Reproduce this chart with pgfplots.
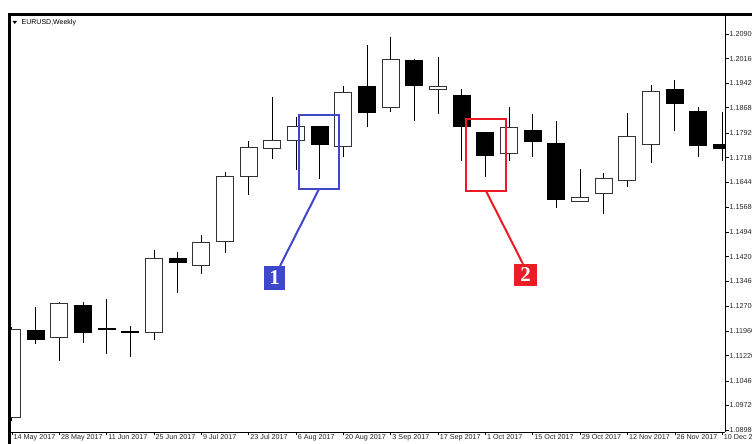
\documentclass[border=0pt]{standalone}
\usepackage{pgfplots}
\pgfplotsset{compat=1.18}
\usepackage{pgfplotstable}
\usepackage{fontspec}
\setmainfont{Liberation Sans}
\newfontfamily\numfont{Liberation Serif}
\definecolor{boxblue}{RGB}{63,72,204}
\definecolor{boxred}{RGB}{237,28,36}

% week index, open, high, low, close
\pgfplotstableread{
x o h l c
0 1.0934 1.1208 1.0925 1.1202
2 1.1175 1.1283 1.1106 1.1280
6 1.1190 1.1440 1.1169 1.1416
8 1.1392 1.1485 1.1368 1.1464
9 1.1464 1.1675 1.1431 1.1663
10 1.1660 1.1768 1.1605 1.1750
11 1.1744 1.1900 1.1714 1.1771
12 1.1768 1.1840 1.1681 1.1813
14 1.1750 1.1934 1.1720 1.1915
16 1.1867 1.2081 1.1855 1.2015
18 1.1921 1.2021 1.1849 1.1934
21 1.1729 1.1870 1.1708 1.1810
24 1.1584 1.1684 1.1584 1.1599
25 1.1608 1.1672 1.1548 1.1657
26 1.1648 1.1852 1.1630 1.1783
27 1.1756 1.1937 1.1702 1.1918
}\bull
\pgfplotstableread{
x o h l c
1 1.1199 1.1268 1.1157 1.1169
3 1.1274 1.1283 1.1160 1.1190
4 1.1205 1.1292 1.1127 1.1199
5 1.1196 1.1211 1.1118 1.1193
7 1.1416 1.1434 1.1310 1.1401
13 1.1813 1.1813 1.1654 1.1756
15 1.1934 1.2057 1.1810 1.1852
17 1.2012 1.2015 1.1828 1.1934
19 1.1906 1.1925 1.1708 1.1810
20 1.1795 1.1795 1.1660 1.1723
22 1.1801 1.1849 1.1720 1.1765
23 1.1762 1.1828 1.1566 1.1590
28 1.1925 1.1952 1.1798 1.1879
29 1.1858 1.1870 1.1720 1.1753
30 1.1759 1.1855 1.1708 1.1744
}\bear

\begin{document}
\begin{tikzpicture}[x=1pt,y=1pt]
\begin{axis}[
  scale only axis, width=715pt, height=417pt,
  xmin=-0.0845, xmax=30.12, ymin=1.0892, ymax=1.21472,
  axis x line*=bottom, axis y line*=right,
  axis line style={black, line width=0.8pt},
  tick align=outside, major tick length=3.5pt,
  tick style={black, line width=0.6pt},
  xtick={0,2,...,30},
  xticklabels={14 May 2017,28 May 2017,11 Jun 2017,25 Jun 2017,9 Jul 2017,23 Jul 2017,6 Aug 2017,20 Aug 2017,3 Sep 2017,17 Sep 2017,1 Oct 2017,15 Oct 2017,29 Oct 2017,12 Nov 2017,26 Nov 2017,10 Dec 2017},
  ytick={1.0898,1.0972,1.1046,1.1122,1.1196,1.1270,1.1346,1.1420,1.1494,1.1568,1.1644,1.1718,1.1792,1.1868,1.1942,1.2016,1.2090},
  yticklabels={1.08980,1.09720,1.10460,1.11220,1.11960,1.12700,1.13460,1.14200,1.14940,1.15680,1.16440,1.17180,1.17920,1.18680,1.19420,1.20160,1.20900},
  tick label style={font=\fontsize{7.2}{8}\selectfont, text=black!85},
  xticklabel style={anchor=north west, inner sep=0pt, xshift=1.5pt, yshift=1pt},
  yticklabel style={anchor=west, inner sep=0pt, xshift=1pt},
]
\coordinate (O) at (rel axis cs:0,0);
% wicks
\addplot[draw=none, forget plot, error bars/.cd, y dir=both, y explicit, error mark=none,
  error bar style={draw=black, line width=1pt}]
  table[x=x, y expr={(\thisrow{h}+\thisrow{l})/2}, y error expr={max((\thisrow{h}-\thisrow{l})/2,0.00001)}] {\bull};
\addplot[draw=none, forget plot, error bars/.cd, y dir=both, y explicit, error mark=none,
  error bar style={draw=black, line width=1pt}]
  table[x=x, y expr={(\thisrow{h}+\thisrow{l})/2}, y error expr={max((\thisrow{h}-\thisrow{l})/2,0.00001)}] {\bear};
% bodies (black outline / fill)
\addplot[draw=none, forget plot, error bars/.cd, y dir=both, y explicit, error mark=none,
  error bar style={draw=black, line width=18pt}]
  table[x=x, y expr={(\thisrow{o}+\thisrow{c})/2}, y error expr={max(abs(\thisrow{c}-\thisrow{o})/2,0.00018)}] {\bear};
\addplot[draw=none, forget plot, error bars/.cd, y dir=both, y explicit, error mark=none,
  error bar style={draw=black!80, line width=18pt}]
  table[x=x, y expr={(\thisrow{o}+\thisrow{c})/2}, y error expr={max(abs(\thisrow{c}-\thisrow{o})/2,0.00018)}] {\bull};
% hollow interior of rising candles
\addplot[draw=none, forget plot, error bars/.cd, y dir=both, y explicit, error mark=none,
  error bar style={draw=white, line width=16pt}]
  table[x=x, y expr={(\thisrow{o}+\thisrow{c})/2}, y error expr={max(abs(\thisrow{c}-\thisrow{o})/2-0.0003,0.00001)}] {\bull};
\end{axis}
\begin{scope}[shift={(O)}, xshift=-10pt, yshift=-12pt]
% window frame
\draw[black, line width=3pt] (9.5,0) -- (9.5,429.5) -- (752,429.5);
% title
\fill[black] (12.5,423) -- (17,423) -- (14.75,420) -- cycle;
\node[anchor=west, inner sep=0pt, font=\fontsize{7}{8}\selectfont] at (21.5,421.5) {EURUSD,Weekly};
% annotation 1
\draw[boxblue, line width=2pt] (299,329) rectangle (339,255);
\draw[boxblue, line width=2pt] (319,255) -- (280,178);
\fill[boxblue] (264,178) rectangle (285,154);
\node[text=white, font=\numfont\bfseries\fontsize{21}{21}\selectfont, inner sep=0pt] at (274.5,166) {1};
% annotation 2
\draw[boxred, line width=2pt] (466,325) rectangle (506,253);
\draw[boxred, line width=2pt] (486,253) -- (523,180);
\fill[boxred] (514,180) rectangle (537,158);
\node[text=white, font=\numfont\bfseries\fontsize{21}{21}\selectfont, inner sep=0pt] at (525.5,169) {2};
\pgfresetboundingbox
\path[use as bounding box] (0,0) rectangle (752,444);
\end{scope}
\end{tikzpicture}
\end{document}
